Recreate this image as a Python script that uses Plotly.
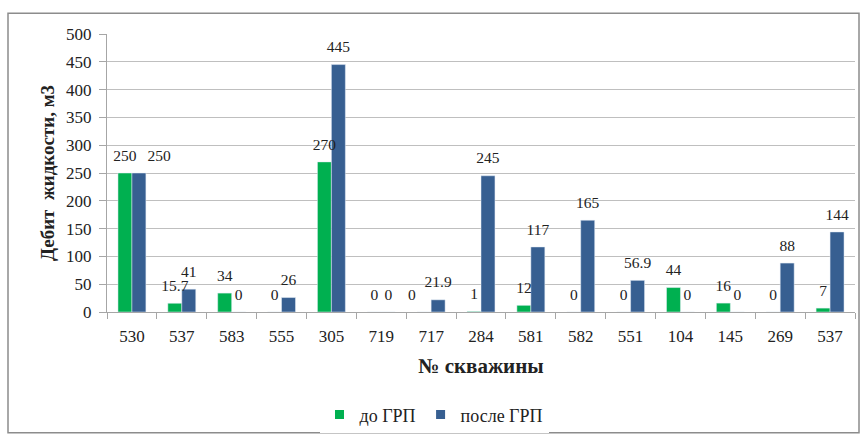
import plotly.graph_objects as go

wells = ["530", "537", "583", "555", "305", "719", "717", "284", "581", "582", "551", "104", "145", "269", "537"]
before = [250, 15.7, 34, 0, 270, 0, 0, 1, 12, 0, 0, 44, 16, 0, 7]
after = [250, 41, 0, 26, 445, 0, 21.9, 245, 117, 165, 56.9, 0, 0, 88, 144]
y_ticks = [0, 50, 100, 150, 200, 250, 300, 350, 400, 450, 500]

W, H = 861, 439
L, R, T, B = 107, 6, 34, 124
pw, ph = W - L - R, H - T - B

xs = list(range(len(wells)))
font = '"Liberation Serif", "Times New Roman", serif'
txt_color = "#222222"
GREEN, BLUE = "#00B050", "#375F91"
LABEL_SIZE = 15.5

BARGAP = 0.44
half = (1 - BARGAP) / 4  # offset of each bar centre from the category centre

fig = go.Figure()
fig.add_bar(x=xs, y=before, name="до ГРП", marker_color=GREEN, showlegend=False)
fig.add_bar(x=xs, y=after, name="после ГРП", marker_color=BLUE, showlegend=False)

# data labels (Excel-style, centred above each bar; colliding neighbours pushed apart)
txt_b = [f"{v:g}" for v in before]
txt_a = [f"{v:g}" for v in after]
pos_b = ["top center"] * len(xs)
pos_a = ["top center"] * len(xs)
bar_dx = 2 * half * pw / len(xs)          # px between the two bar centres
px_per_unit = ph / 500
for i in range(len(xs)):
    wb = 0.5 * LABEL_SIZE * len(txt_b[i])
    wa = 0.5 * LABEL_SIZE * len(txt_a[i])
    if abs(after[i] - before[i]) * px_per_unit < 13 and (wa + wb) / 2 > bar_dx:
        if wb < wa:
            pos_b[i] = "top left"
        else:
            pos_a[i] = "top right"

for xv, vals, txt, pos in (([x - half for x in xs], before, txt_b, pos_b),
                           ([x + half for x in xs], after, txt_a, pos_a)):
    fig.add_scatter(x=xv, y=vals, mode="markers+text",
                    marker=dict(size=12, opacity=0),
                    text=txt, textposition=pos,
                    textfont=dict(family=font, size=LABEL_SIZE, color=txt_color),
                    showlegend=False, hoverinfo="skip", cliponaxis=False)

# legend entries with small square keys
for name, col in (("до ГРП", GREEN), ("после ГРП", BLUE)):
    fig.add_scatter(x=[None], y=[None], mode="markers", name=name,
                    marker=dict(symbol="square", size=9, color=col))

def px_x(p):
    return (p - L) / pw

def px_y(p):
    return (H - B - p) / ph

fig.add_shape(type="rect", xref="paper", yref="paper",
              x0=px_x(8), x1=px_x(859), y0=px_y(437), y1=px_y(13),
              line=dict(color="#8C8C8C", width=1.5), layer="below")

fig.update_layout(
    width=W, height=H,
    margin=dict(l=L, r=R, t=T, b=B),
    paper_bgcolor="white", plot_bgcolor="white",
    barmode="group", bargap=BARGAP, bargroupgap=0,
    font=dict(family=font, size=16, color=txt_color),
    showlegend=True,
    legend=dict(orientation="h", x=px_x(434), xanchor="center", y=px_y(419), yanchor="middle",
                font=dict(family=font, size=18, color=txt_color),
                itemwidth=30, traceorder="normal", tracegroupgap=0),
    xaxis=dict(
        range=[-0.5, len(wells) - 0.5],
        tickmode="array", tickvals=xs, ticktext=wells, ticks="",
        showgrid=False, zeroline=False,
        showline=True, linecolor="#A6A6A6", linewidth=1,
        tickfont=dict(family=font, size=17, color=txt_color),
        ticklabelstandoff=9,
        minor=dict(tickmode="array", tickvals=[i - 0.5 for i in range(len(wells) + 1)],
                   ticks="outside", ticklen=6, tickcolor="#A6A6A6", showgrid=False),
        title=dict(text="<b>№ скважины</b>", font=dict(family=font, size=21, color=txt_color), standoff=12),
    ),
    yaxis=dict(
        range=[0, 500], tickmode="array", tickvals=y_ticks,
        showgrid=True, gridcolor="#BFBFBF", gridwidth=1,
        zeroline=False, showline=True, linecolor="#A6A6A6", linewidth=1,
        ticks="outside", ticklen=7, tickcolor="#A6A6A6",
        tickfont=dict(family=font, size=17, color=txt_color),
        ticklabelstandoff=4,
        title=dict(text="<b>Дебит  жидкости, м3</b>", font=dict(family=font, size=19, color=txt_color), standoff=6),
    ),
)

fig.write_html("out.html")
